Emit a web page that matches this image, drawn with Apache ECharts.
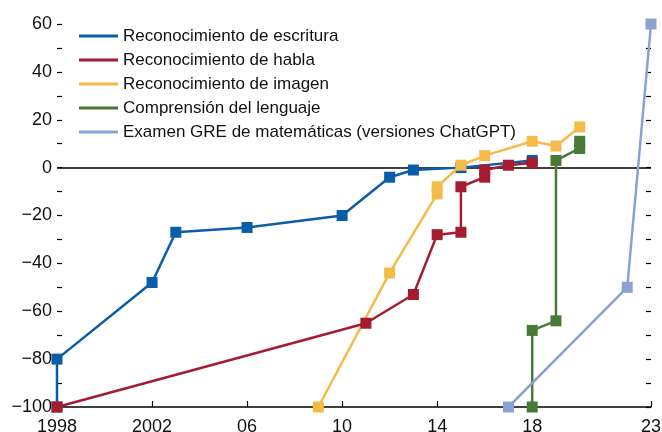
<!DOCTYPE html>
<html>
<head>
<meta charset="utf-8">
<script src="https://cdn.jsdelivr.net/npm/echarts@6/dist/echarts.min.js"></script>
<style>
  html, body { margin: 0; padding: 0; background: #fff; }
  #chart { width: 662px; height: 432px; }
</style>
</head>
<body>
<div id="chart"></div>
<script>
const seriesNames = [
  'Reconocimiento de escritura',
  'Reconocimiento de habla',
  'Reconocimiento de imagen',
  'Comprensión del lenguaje',
  'Examen GRE de matemáticas (versiones ChatGPT)'
]
const seriesColors = ['#0b5da8', '#a51c30', '#f3bc48', '#487a35', '#8aa1d3']

const escrituraYears = [1998, 1998, 2002, 2003, 2006, 2010, 2012, 2013, 2015, 2018]
const escrituraVals = [-100, -80, -48, -27, -25, -20, -4, -1, 0, 3]
const hablaYears = [1998, 2011, 2013, 2014, 2015, 2015, 2016, 2016, 2017, 2018]
const hablaVals = [-100, -65, -53, -28, -27, -8, -4, -1, 1, 2]
const imagenYears = [2009, 2012, 2014, 2014, 2015, 2016, 2018, 2019, 2020]
const imagenVals = [-100, -44, -11, -8, 1, 5, 11, 9, 17]
const lenguajeYears = [2018, 2018, 2019, 2019, 2020, 2020]
const lenguajeVals = [-100, -68, -64, 3, 8, 11]
const greYears = [2017, 2022, 2023]
const greVals = [-100, -50, 60]

const xTicks = [1998, 2002, 2006, 2010, 2014, 2018, 2023]
const xTickLabels = ['1998', '2002', '06', '10', '14', '18', '23']

const font = "'Liberation Sans', Arial, sans-serif"

const zip = (xs, ys) => xs.map((x, i) => [x, ys[i]])

const chart = echarts.init(document.getElementById('chart'))

const mkSeries = (idx, years, vals, z) => ({
  name: seriesNames[idx],
  type: 'line',
  data: zip(years, vals),
  color: seriesColors[idx],
  symbol: 'rect',
  symbolSize: 11,
  clip: false,
  z: z,
  lineStyle: { width: 2.5 },
  emphasis: { disabled: true }
})

const series = [
  mkSeries(0, escrituraYears, escrituraVals, 2),
  mkSeries(2, imagenYears, imagenVals, 3),
  mkSeries(1, hablaYears, hablaVals, 4),
  mkSeries(3, lenguajeYears, lenguajeVals, 5),
  mkSeries(4, greYears, greVals, 6)
]
// zero line
series[0].markLine = {
  silent: true,
  symbol: 'none',
  label: { show: false },
  lineStyle: { color: '#000', width: 1.5, type: 'solid' },
  data: [{ yAxis: 0 }],
  z: 1
}

const option = {
  animation: false,
  textStyle: { fontFamily: font },
  grid: { left: 57, right: 11, top: 24, bottom: 25, outerBoundsMode: 'none', containLabel: false },
  legend: {
    orient: 'vertical',
    left: 79,
    top: 24,
    padding: 0,
    itemGap: 0,
    itemWidth: 39,
    itemHeight: 3,
    icon: 'rect',
    data: seriesNames,
    textStyle: { fontFamily: font, fontSize: 17, color: '#111', lineHeight: 24 }
  },
  xAxis: {
    type: 'value',
    min: 1998,
    max: 2023,
    splitLine: { show: false },
    axisLine: { onZero: false, lineStyle: { color: '#000', width: 1.5 } },
    axisTick: { inside: true, length: 6, customValues: xTicks, lineStyle: { color: '#000', width: 1.2 } },
    axisLabel: {
      customValues: xTicks,
      margin: 11,
      fontSize: 18,
      color: '#111',
      fontFamily: font,
      formatter: (v) => xTickLabels[xTicks.indexOf(v)]
    }
  },
  yAxis: [
    {
      type: 'value',
      min: -100,
      max: 60,
      interval: 10,
      splitLine: { show: false },
      axisLine: { show: false },
      axisTick: { show: true, inside: true, length: 5, lineStyle: { color: '#000', width: 1.2 } },
      axisLabel: {
        margin: 5,
        fontSize: 18,
        color: '#111',
        fontFamily: font,
        formatter: (v) => (v % 20 === 0 ? String(v).replace('-', '\u2212') : '')
      }
    },
    {
      type: 'value',
      position: 'right',
      min: -100,
      max: 60,
      interval: 10,
      splitLine: { show: false },
      axisLine: { show: false },
      axisTick: { show: true, inside: true, length: 5, lineStyle: { color: '#000', width: 1.2 } },
      axisLabel: { show: false }
    }
  ],
  series: series
}

chart.setOption(option)
</script>
</body>
</html>
